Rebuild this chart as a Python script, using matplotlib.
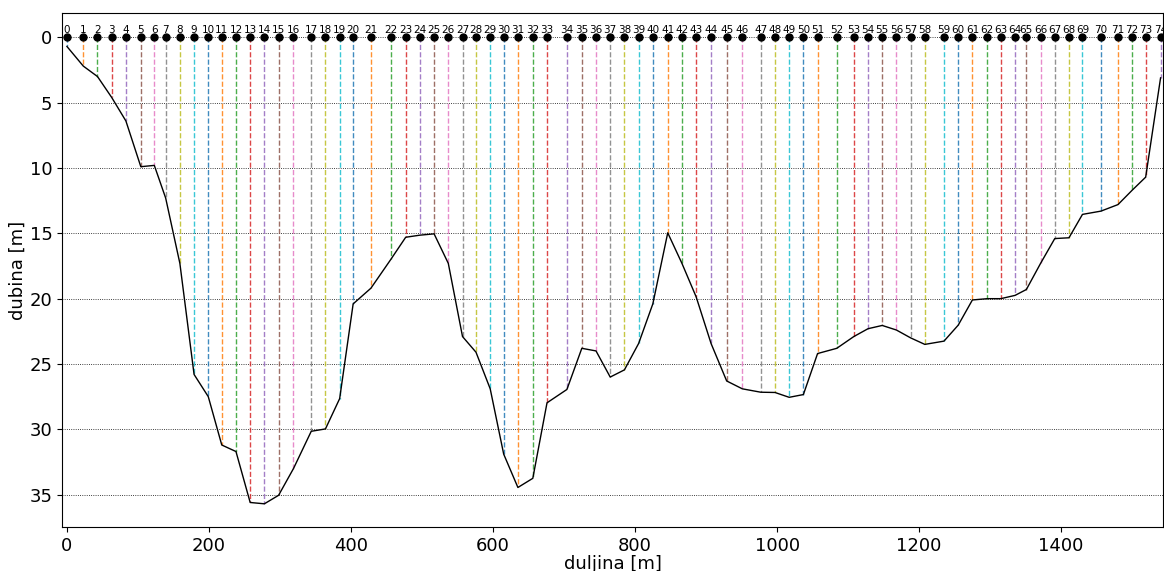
"""
    Depth profile along a cross section, with numbered measuring points.
"""

# ------ Environment Setup ------ #
import numpy as np                          # array manipulation
import matplotlib.pyplot as plt             # plotting


# ------ Data ------ #
# distance along profile [m]
duljina = [0, 23, 43, 63, 83, 104, 123, 139, 159, 179,
           199, 218, 238, 258, 278, 298, 319, 344, 364, 384,
           403, 428, 456, 477, 497, 517, 537, 557, 576, 596,
           615, 635, 656, 676, 704, 725, 745, 765, 785, 805,
           825, 846, 866, 886, 907, 929, 951, 977, 997, 1017,
           1037, 1057, 1084, 1108, 1128, 1148, 1168, 1188, 1208, 1235,
           1255, 1275, 1296, 1315, 1335, 1351, 1371, 1391, 1411, 1430,
           1456, 1480, 1500, 1519, 1540]

# depth at each point [m]
dubina = [0.7, 2.2, 3.0, 4.6, 6.4, 9.9, 9.8, 12.3, 17.3, 25.8,
          27.5, 31.2, 31.7, 35.6, 35.7, 35.05, 33.0, 30.15, 29.97, 27.65,
          20.4, 19.2, 17.0, 15.3, 15.14, 15.04, 17.3, 22.9, 24.1, 26.9,
          31.9, 34.45, 33.75, 27.97, 26.95, 23.8, 24.0, 26.0, 25.45, 23.43,
          20.4, 14.96, 17.3, 19.86, 23.43, 26.3, 26.9, 27.16, 27.18, 27.55,
          27.34, 24.2, 23.8, 22.9, 22.3, 22.05, 22.4, 23.0, 23.5, 23.25,
          22.03, 20.1, 20.0, 20.0, 19.75, 19.3, 17.3, 15.4, 15.34, 13.55,
          13.3, 12.8, 11.7, 10.7, 3.1]

y_ticks = [0, 5, 10, 15, 20, 25, 30, 35]
x_ticks = [0, 200, 400, 600, 800, 1000, 1200, 1400]


# ------ Plotting ------ #
fig = plt.figure(figsize=(11.64, 5.71), dpi=100)
ax = fig.add_axes([0.0535, 0.0765, 0.946, 0.9002])

colors = plt.rcParams['axes.prop_cycle'].by_key()['color']

# vertical measuring lines
for i, (x, d) in enumerate(zip(duljina, dubina)):
    ax.plot([x, x], [0, d], linestyle='--', linewidth=1.0,
            color=colors[i % len(colors)], alpha=0.85)

# bottom profile
ax.plot(duljina, dubina, color='k', linewidth=1.0)

# points on the surface & their numbers
ax.plot(duljina, np.zeros(len(duljina)), 'o', color='k', markersize=5,
        zorder=5)
for i, x in enumerate(duljina):
    ax.text(x, -0.35, str(i), ha='center', va='baseline', fontsize=7.5)

# axes
ax.set_xlim(-6.6, 1544)
ax.set_ylim(37.5, -1.84)
ax.set_xticks(x_ticks)
ax.set_yticks(y_ticks)
ax.tick_params(labelsize=13)
ax.yaxis.grid(True, linestyle=':', color='k', linewidth=0.6)
ax.set_xlabel('duljina [m]', fontsize=13, labelpad=0)
ax.set_ylabel('dubina [m]', fontsize=13, labelpad=2)

plt.savefig('out.png', dpi=100)
